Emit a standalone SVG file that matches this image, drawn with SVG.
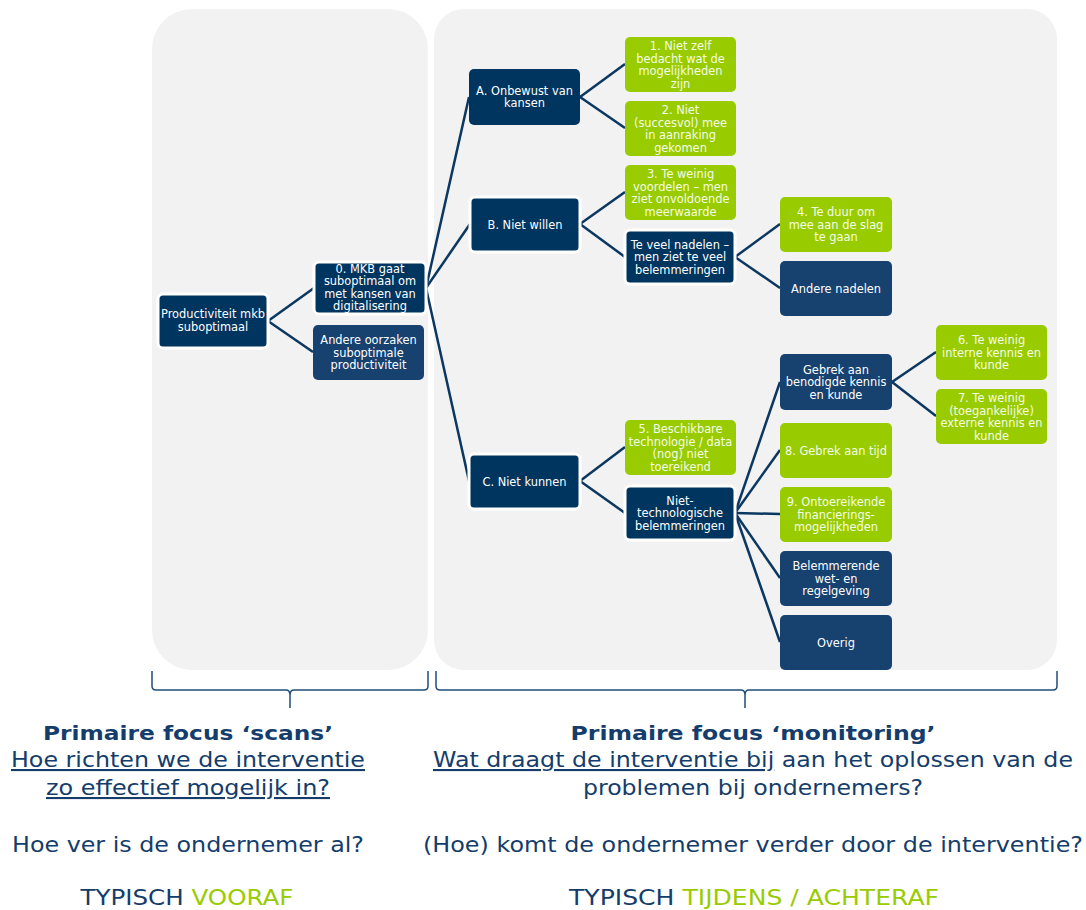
<svg xmlns="http://www.w3.org/2000/svg" width="1086" height="910" viewBox="0 0 1086 910">
<style>
.panel{fill:#f2f2f2}
.dk{fill:#00355f}
.dkw{fill:#00355f;stroke:#ffffff;stroke-width:3}
.lt{fill:#17416f}
.gr{fill:#99cc00}
.nt{font-family:"DejaVu Sans",Verdana,sans-serif;font-size:11.4px;fill:#ffffff;text-anchor:middle}
.gt{font-family:"DejaVu Sans",Verdana,sans-serif;font-size:11.4px;fill:#f4fbe6;text-anchor:middle}
.con path{fill:none;stroke:#0b3761;stroke-width:2.5}
.br{fill:none;stroke:#1f4e79;stroke-width:1.5}
.bt{font-family:"DejaVu Sans",Verdana,sans-serif;fill:#143d6b;text-anchor:middle}
.bold{font-weight:bold;font-size:20px}
.reg{font-size:21px}
.green{fill:#99cc00}
</style>
<rect width="1086" height="910" fill="#ffffff"/>
<rect class="panel" x="152" y="9" width="276" height="661" rx="40"/>
<rect class="panel" x="434" y="9" width="623" height="661" rx="30"/>

<g class="con" id="connectors">
<path d="M268,321 L314,288"/>
<path d="M268,321 L313,352"/>
<path d="M426,288 L469,97"/>
<path d="M426,288 L470,224"/>
<path d="M426,288 L469,481"/>
<path d="M580,97 L625,64"/>
<path d="M580,97 L625,128"/>
<path d="M580,224 L625,192"/>
<path d="M580,224 L625,257"/>
<path d="M735,257 L780,224"/>
<path d="M735,257 L780,288"/>
<path d="M580,481 L625,447"/>
<path d="M580,481 L625,513"/>
<path d="M735,513 L780,382"/>
<path d="M735,513 L780,450"/>
<path d="M735,513 L780,514"/>
<path d="M735,513 L780,578"/>
<path d="M735,513 L780,642"/>
<path d="M892,382 L936,352"/>
<path d="M892,382 L936,416"/>
</g>

<g id="n-productiviteit"><rect class="dkw" x="158" y="294" width="110" height="54" rx="5"/>
<text class="nt"><tspan x="213" y="318">Productiviteit mkb</tspan><tspan x="213" y="330.5">suboptimaal</tspan></text></g>

<g id="n-0"><rect class="dkw" x="314" y="262" width="112" height="52" rx="5"/>
<text class="nt"><tspan x="370" y="272.5">0. MKB gaat</tspan><tspan x="370" y="285">suboptimaal om</tspan><tspan x="370" y="297.5">met kansen van</tspan><tspan x="370" y="310">digitalisering</tspan></text></g>

<g id="n-andere-oorzaken"><rect class="lt" x="313" y="325" width="111" height="55" rx="5"/>
<text class="nt"><tspan x="368.5" y="344">Andere oorzaken</tspan><tspan x="368.5" y="356.5">suboptimale</tspan><tspan x="368.5" y="369">productiviteit</tspan></text></g>

<g id="n-a"><rect class="dk" x="469" y="69" width="111" height="56" rx="5"/>
<text class="nt"><tspan x="524.5" y="94.5">A. Onbewust van</tspan><tspan x="524.5" y="107">kansen</tspan></text></g>

<g id="n-b"><rect class="dkw" x="470" y="197" width="110" height="55" rx="5"/>
<text class="nt"><tspan x="525" y="228.5">B. Niet willen</tspan></text></g>

<g id="n-c"><rect class="dkw" x="469" y="454" width="111" height="55" rx="5"/>
<text class="nt"><tspan x="524.5" y="485.5">C. Niet kunnen</tspan></text></g>

<g id="n-1"><rect class="gr" x="625" y="37" width="111" height="55" rx="5"/>
<text class="gt"><tspan x="680.5" y="50">1. Niet zelf</tspan><tspan x="680.5" y="62.5">bedacht wat de</tspan><tspan x="680.5" y="75">mogelijkheden</tspan><tspan x="680.5" y="87.5">zijn</tspan></text></g>

<g id="n-2"><rect class="gr" x="625" y="101" width="111" height="55" rx="5"/>
<text class="gt"><tspan x="680.5" y="114">2. Niet</tspan><tspan x="680.5" y="126.5">(succesvol) mee</tspan><tspan x="680.5" y="139">in aanraking</tspan><tspan x="680.5" y="151.5">gekomen</tspan></text></g>

<g id="n-3"><rect class="gr" x="625" y="165" width="111" height="55" rx="5"/>
<text class="gt"><tspan x="680.5" y="178">3. Te weinig</tspan><tspan x="680.5" y="190.5">voordelen – men</tspan><tspan x="680.5" y="203">ziet onvoldoende</tspan><tspan x="680.5" y="215.5">meerwaarde</tspan></text></g>

<g id="n-teveel"><rect class="dkw" x="625" y="230" width="110" height="54" rx="5"/>
<text class="nt"><tspan x="680" y="248.5">Te veel nadelen –</tspan><tspan x="680" y="261">men ziet te veel</tspan><tspan x="680" y="273.5">belemmeringen</tspan></text></g>

<g id="n-4"><rect class="gr" x="780" y="197" width="112" height="55" rx="5"/>
<text class="gt"><tspan x="836" y="216">4. Te duur om</tspan><tspan x="836" y="228.5">mee aan de slag</tspan><tspan x="836" y="241">te gaan</tspan></text></g>

<g id="n-andere-nadelen"><rect class="lt" x="780" y="261" width="112" height="55" rx="5"/>
<text class="nt"><tspan x="836" y="292.5">Andere nadelen</tspan></text></g>

<g id="n-gebrek"><rect class="lt" x="780" y="354" width="112" height="56" rx="5"/>
<text class="nt"><tspan x="836" y="373.5">Gebrek aan</tspan><tspan x="836" y="386">benodigde kennis</tspan><tspan x="836" y="398.5">en kunde</tspan></text></g>

<g id="n-6"><rect class="gr" x="936" y="325" width="111" height="55" rx="5"/>
<text class="gt"><tspan x="991.5" y="344">6. Te weinig</tspan><tspan x="991.5" y="356.5">interne kennis en</tspan><tspan x="991.5" y="369">kunde</tspan></text></g>

<g id="n-7"><rect class="gr" x="936" y="389" width="111" height="55" rx="5"/>
<text class="gt"><tspan x="991.5" y="402">7. Te weinig</tspan><tspan x="991.5" y="414.5">(toegankelijke)</tspan><tspan x="991.5" y="427">externe kennis en</tspan><tspan x="991.5" y="439.5">kunde</tspan></text></g>

<g id="n-5"><rect class="gr" x="625" y="420" width="111" height="55" rx="5"/>
<text class="gt"><tspan x="680.5" y="433">5. Beschikbare</tspan><tspan x="680.5" y="445.5">technologie / data</tspan><tspan x="680.5" y="458">(nog) niet</tspan><tspan x="680.5" y="470.5">toereikend</tspan></text></g>

<g id="n-niettech"><rect class="dkw" x="625" y="486" width="110" height="54" rx="5"/>
<text class="nt"><tspan x="680" y="504.5">Niet-</tspan><tspan x="680" y="517">technologische</tspan><tspan x="680" y="529.5">belemmeringen</tspan></text></g>

<g id="n-8"><rect class="gr" x="780" y="423" width="112" height="55" rx="5"/>
<text class="gt"><tspan x="836" y="454.5">8. Gebrek aan tijd</tspan></text></g>

<g id="n-9"><rect class="gr" x="780" y="487" width="112" height="55" rx="5"/>
<text class="gt"><tspan x="836" y="506">9. Ontoereikende</tspan><tspan x="836" y="518.5">financierings-</tspan><tspan x="836" y="531">mogelijkheden</tspan></text></g>

<g id="n-belemmerende"><rect class="lt" x="780" y="551" width="112" height="55" rx="5"/>
<text class="nt"><tspan x="836" y="570">Belemmerende</tspan><tspan x="836" y="582.5">wet- en</tspan><tspan x="836" y="595">regelgeving</tspan></text></g>

<g id="n-overig"><rect class="lt" x="780" y="615" width="112" height="55" rx="5"/>
<text class="nt"><tspan x="836" y="646.5">Overig</tspan></text></g>

<g id="brackets">
<path class="br" d="M152,671 V686 Q152,690 156,690 H286 Q290,690 290,695 V708 M428,671 V686 Q428,690 424,690 H294 Q290,690 290,695"/>
<path class="br" d="M436,671 V686 Q436,690 440,690 H741 Q745,690 745,695 V708 M1057,671 V686 Q1057,690 1053,690 H749 Q745,690 745,695"/>
</g>

<g id="caption-left">
<text class="bt bold" x="188" y="740" textLength="290" lengthAdjust="spacingAndGlyphs">Primaire focus ‘scans’</text>
<text class="bt reg" x="188" y="767" textLength="354" lengthAdjust="spacingAndGlyphs" text-decoration="underline">Hoe richten we de interventie</text>
<text class="bt reg" x="188" y="795" textLength="284" lengthAdjust="spacingAndGlyphs" text-decoration="underline">zo effectief mogelijk in?</text>
<text class="bt reg" x="188" y="852" textLength="352" lengthAdjust="spacingAndGlyphs">Hoe ver is de ondernemer al?</text>
<text class="bt reg" x="187" y="905" textLength="213" lengthAdjust="spacingAndGlyphs">TYPISCH <tspan class="green">VOORAF</tspan></text>
</g>

<g id="caption-right">
<text class="bt bold" x="753" y="740" textLength="365" lengthAdjust="spacingAndGlyphs">Primaire focus ‘monitoring’</text>
<text class="bt reg" x="753" y="767" textLength="640" lengthAdjust="spacingAndGlyphs"><tspan text-decoration="underline">Wat draagt de interventie bij</tspan> aan het oplossen van de</text>
<text class="bt reg" x="753" y="795" textLength="340" lengthAdjust="spacingAndGlyphs">problemen bij ondernemers?</text>
<text class="bt reg" x="753" y="852" textLength="660" lengthAdjust="spacingAndGlyphs">(Hoe) komt de ondernemer verder door de interventie?</text>
<text class="bt reg" x="754" y="905" textLength="370" lengthAdjust="spacingAndGlyphs">TYPISCH <tspan class="green">TIJDENS / ACHTERAF</tspan></text>
</g>
</svg>
